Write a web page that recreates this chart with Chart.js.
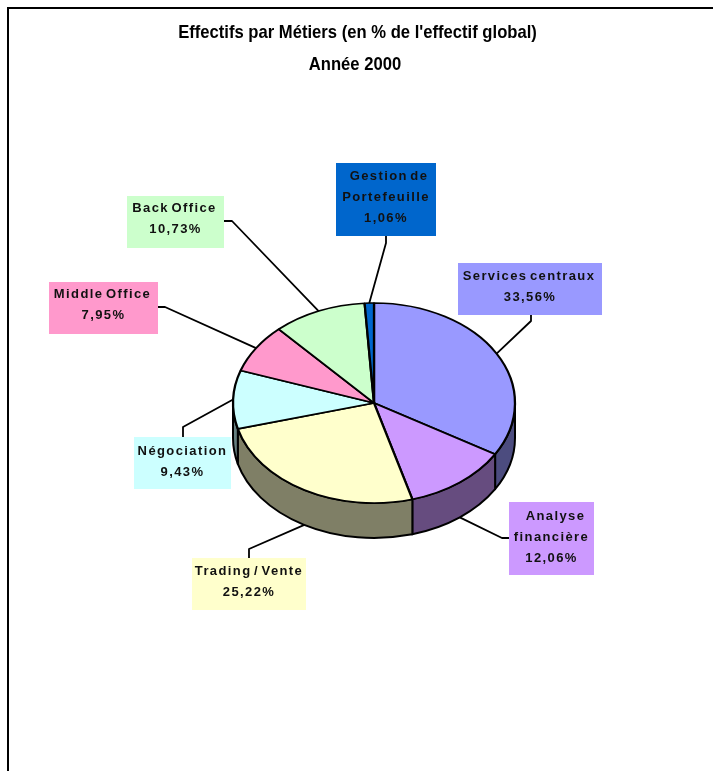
<!DOCTYPE html>
<html lang="fr">
<head>
<meta charset="utf-8">
<title>Effectifs par Métiers</title>
<script src="https://cdn.jsdelivr.net/npm/chart.js@4"></script>
<style>html,body{margin:0;padding:0;background:#fff}canvas{display:block}</style>
</head>
<body>
<canvas id="c" width="713" height="771"></canvas>
<script>
const titleLines = ["Effectifs par Métiers (en % de l'effectif global)", "Année 2000"];
const categories = ["Services centraux", "Analyse financière", "Trading / Vente", "Négociation", "Middle Office", "Back Office", "Gestion de Portefeuille"];
const values = [33.56, 12.06, 25.22, 9.43, 7.95, 10.73, 1.06];
const valueLabels = ["33,56%", "12,06%", "25,22%", "9,43%", "7,95%", "10,73%", "1,06%"];
const categoryLines = [["Services centraux"], ["Analyse", "financière"], ["Trading / Vente"], ["Négociation"], ["Middle Office"], ["Back Office"], ["Gestion de", "Portefeuille"]];
const colors = ["#9999FF", "#CC99FF", "#FFFFCC", "#CCFFFF", "#FF99CC", "#CCFFCC", "#0066CC"];

// layout of the annotation boxes: [x, y, w, h, first line centre y, first line x shift]
const boxes = [[458,263,144,52,276.5,-1],[509,502,85,73,516.5,4],[192,558,114,52,571.5,0],[134,437,97,52,451.5,0],[49,282,109,52,294.5,-1],[127,196,97,52,208.5,-1],[336,163,100,73,176.5,3]];
const leaders = [[[531,315],[531,321]],[[509,538],[502,538]],[[249,558],[249,549]],[[183,437],[183,427]],[[158,307],[165,307]],[[224,221],[232,221]],[[386,236],[386,243]]];

const CX = 374, CY = 403, SQUASH = 100/141, DEPTH = 35, TITLE_SCALE = 0.875;

function half(hex){
  const n = parseInt(hex.slice(1),16);
  const c = s => ((n>>s)&255)/2|0;
  return `rgb(${c(16)},${c(8)},${c(0)})`;
}

const pie3d = {
  id:'pie3d',
  beforeDatasetsDraw(chart){
    const ctx = chart.ctx, arcs = chart.getDatasetMeta(0).data;
    const r0 = arcs[0].outerRadius, ry0 = r0*SQUASH;
    ctx.save();
    ctx.strokeStyle='#000'; ctx.lineWidth=2;
    ctx.beginPath(); ctx.moveTo(8,771); ctx.lineTo(8,8); ctx.lineTo(713,8); ctx.stroke();
    // title (condensed bold)
    ctx.fillStyle='#000'; ctx.textAlign='center'; ctx.textBaseline='middle';
    ctx.font='bold 19px "Liberation Sans", Arial, sans-serif';
    titleLines.forEach((t,k)=>{
      ctx.save();
      ctx.translate(k===0?357.5:355,32.5+k*32);
      ctx.scale(TITLE_SCALE,1);
      ctx.fillText(t,0,0);
      ctx.restore();
    });
    // side walls
    ctx.lineJoin='round';
    arcs.forEach((a,i)=>{
      const s=Math.max(a.startAngle,0), e=Math.min(a.endAngle,Math.PI);
      if(e<=s) return;
      ctx.beginPath();
      ctx.ellipse(CX,CY,r0,ry0,0,s,e);
      ctx.lineTo(CX+r0*Math.cos(e),CY+ry0*Math.sin(e)+DEPTH);
      ctx.ellipse(CX,CY+DEPTH,r0,ry0,0,e,s,true);
      ctx.closePath();
      ctx.fillStyle=half(colors[i]);
      ctx.fill();
      ctx.stroke();
    });
    ctx.restore();
    ctx.save();
    ctx.translate(CX,CY);
    ctx.scale(1,SQUASH);
    ctx.translate(-arcs[0].x,-arcs[0].y);
  },
  afterDatasetsDraw(chart){
    const ctx = chart.ctx, arcs = chart.getDatasetMeta(0).data;
    ctx.restore();
    const r0 = arcs[0].outerRadius, ry0 = r0*SQUASH;
    ctx.save();
    ctx.strokeStyle='#000'; ctx.lineWidth=1.8; ctx.lineJoin='round';
    arcs.forEach((a,i)=>{
      const m=(a.startAngle+a.endAngle)/2;
      const tx=CX+r0*Math.cos(m);
      const ty=CY+ry0*Math.sin(m)+(Math.sin(m)>0?DEPTH:0);
      const L=leaders[i];
      ctx.beginPath(); ctx.moveTo(L[0][0],L[0][1]); ctx.lineTo(L[1][0],L[1][1]); ctx.lineTo(tx,ty); ctx.stroke();
    });
    ctx.textAlign='center'; ctx.textBaseline='middle';
    ctx.font='bold 13px "Liberation Sans", Arial, sans-serif';
    ctx.letterSpacing='1.4px';
    ctx.wordSpacing='-2.5px';
    boxes.forEach((b,i)=>{
      ctx.fillStyle=colors[i];
      ctx.fillRect(b[0],b[1],b[2],b[3]);
      ctx.fillStyle='#111';
      const lines=categoryLines[i].concat(valueLabels[i]);
      lines.forEach((t,k)=>ctx.fillText(t,b[0]+b[2]/2+(k===0&&lines.length>1?b[5]:0),b[4]+k*21));
    });
    ctx.restore();
  }
};

new Chart(document.getElementById('c'),{
  type:'pie',
  data:{labels:categories,datasets:[{data:values,backgroundColor:colors,borderColor:'#000',borderWidth:2.3,clip:false}]},
  options:{
    responsive:false,
    animation:false,
    radius:141,
    layout:{padding:{top:90}},
    plugins:{legend:{display:false},tooltip:{enabled:false},title:{display:false}}
  },
  plugins:[pie3d]
});
</script>
</body>
</html>
